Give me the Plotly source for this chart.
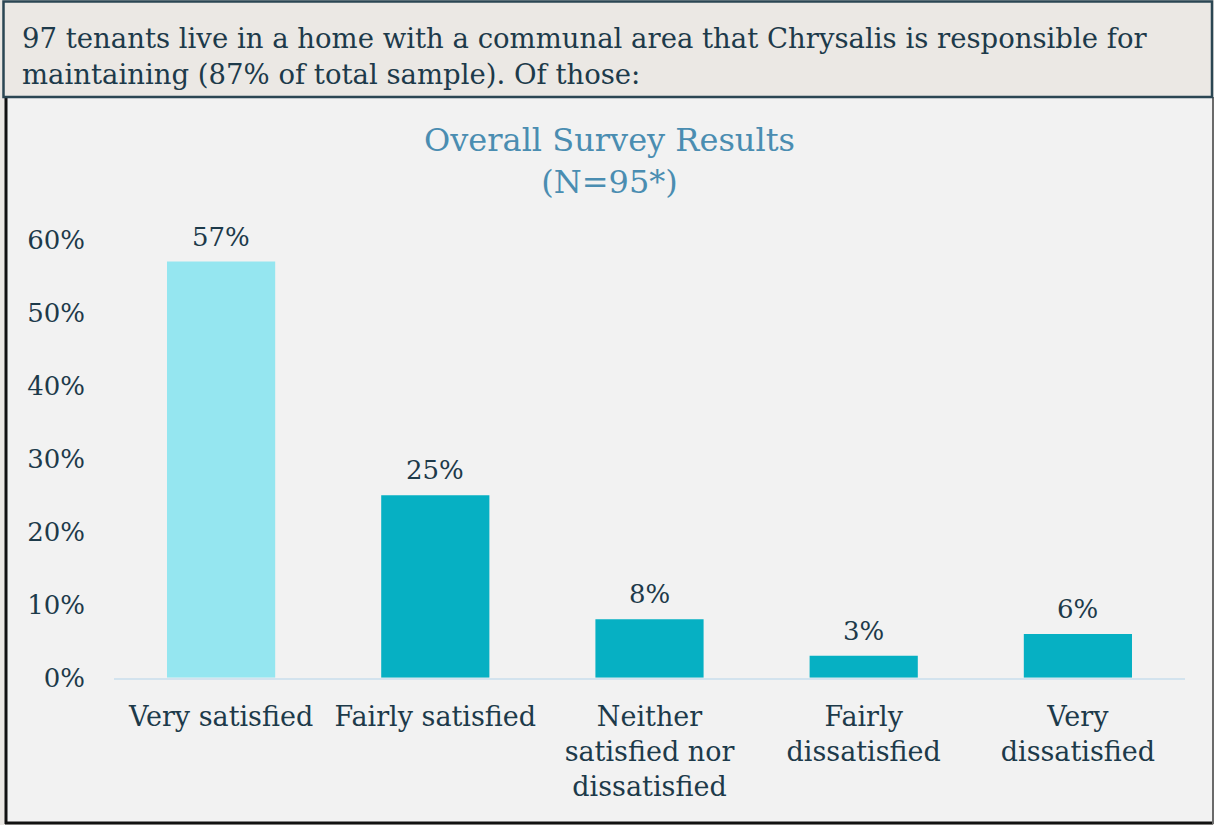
import plotly.graph_objects as go

# Survey answers and share of tenants giving each answer
categories = [
    "Very satisfied",
    "Fairly satisfied",
    "Neither<br>satisfied nor<br>dissatisfied",
    "Fairly<br>dissatisfied",
    "Very<br>dissatisfied",
]
shares = [0.57, 0.25, 0.08, 0.03, 0.06]
bar_colors = ["#95E6F0", "#06B0C3", "#06B0C3", "#06B0C3", "#06B0C3"]

y_ticks = [0, 0.1, 0.2, 0.3, 0.4, 0.5, 0.6]

header_text = ("97 tenants live in a home with a communal area that Chrysalis is responsible for<br>"
               "maintaining (87% of total sample). Of those:")
chart_title = "Overall Survey Results<br>(N=95*)"

W, H = 1214, 825
FONT = "DejaVu Serif"
TEXT = "#1D3A4A"


def px_x(v):
    return v / W


def px_y(v):
    return 1 - v / H


fig = go.Figure(
    go.Bar(
        x=categories,
        y=shares,
        marker=dict(color=bar_colors, line=dict(width=0)),
        cliponaxis=False,
        hoverinfo="skip",
    )
)

shapes = [
    # chart panel
    dict(type="rect", xref="paper", yref="paper",
         x0=px_x(5), x1=px_x(1213), y0=px_y(823), y1=px_y(97),
         fillcolor="#F2F2F2", line=dict(width=0), layer="below"),
    dict(type="line", xref="paper", yref="paper",
         x0=px_x(6), x1=px_x(6), y0=px_y(824), y1=px_y(97),
         line=dict(color="#111111", width=3), layer="below"),
    dict(type="line", xref="paper", yref="paper",
         x0=px_x(5), x1=px_x(1213), y0=px_y(823), y1=px_y(823),
         line=dict(color="#111111", width=3), layer="below"),
    dict(type="line", xref="paper", yref="paper",
         x0=px_x(1213), x1=px_x(1213), y0=px_y(824), y1=px_y(97),
         line=dict(color="#6A6A6A", width=2), layer="below"),
    # header box
    dict(type="rect", xref="paper", yref="paper",
         x0=px_x(3.5), x1=px_x(1212), y0=px_y(97), y1=px_y(1.5),
         fillcolor="#EBE8E4", line=dict(color="#2B4653", width=2.5), layer="below"),
]

annotations = [
    dict(text=header_text, xref="paper", yref="paper",
         x=px_x(20), y=px_y(56), xanchor="left", yanchor="middle",
         align="left", showarrow=False,
         font=dict(family=FONT, size=27.5, color=TEXT)),
    dict(text=chart_title, xref="paper", yref="paper",
         x=px_x(609), y=px_y(161), xanchor="center", yanchor="middle",
         align="center", showarrow=False,
         font=dict(family=FONT, size=32, color="#4A8DB1")),
]

# value labels above each bar
for cat, s in zip(categories, shares):
    annotations.append(dict(
        text=f"{round(s * 100)}%", x=cat, y=s, xref="x", yref="y",
        xanchor="center", yanchor="bottom", yshift=8, showarrow=False,
        font=dict(family=FONT, size=26, color=TEXT),
    ))

fig.update_layout(
    width=W,
    height=H,
    margin=dict(l=0, r=0, t=0, b=0, autoexpand=False),
    paper_bgcolor="#EBE8E4",
    plot_bgcolor="rgba(0,0,0,0)",
    showlegend=False,
    bargap=0.495,
    shapes=shapes,
    annotations=annotations,
    xaxis=dict(
        domain=[px_x(114), px_x(1185)],
        automargin=False,
        showline=True, linecolor="#D3E3EE", linewidth=2,
        showgrid=False, zeroline=False, ticks="",
        tickangle=0, ticklabelstandoff=14,
        tickfont=dict(family=FONT, size=27, color=TEXT),
        fixedrange=True,
    ),
    yaxis=dict(
        domain=[px_y(677.7), px_y(239.7)],
        automargin=False,
        range=[0, 0.6],
        tickvals=y_ticks, tickformat=".0%",
        showgrid=False, zeroline=False, showline=False, ticks="",
        ticklabelstandoff=28,
        tickfont=dict(family=FONT, size=26, color=TEXT),
        fixedrange=True,
    ),
)

fig.write_html("out.html")
